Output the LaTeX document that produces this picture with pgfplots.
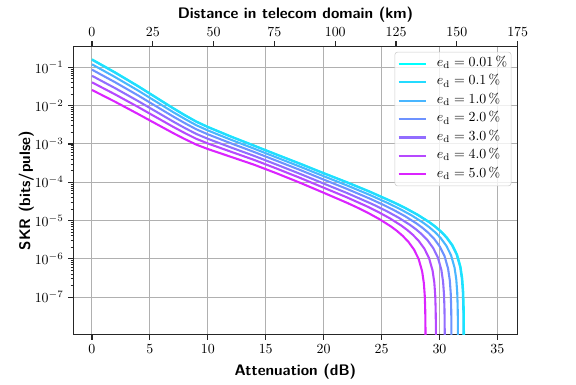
\documentclass[border=0pt]{standalone}
\usepackage{pgfplots}
\pgfplotsset{compat=1.18}
\definecolor{c0}{RGB}{0,255,255}
\definecolor{c1}{RGB}{36,219,255}
\definecolor{c2}{RGB}{73,182,255}
\definecolor{c3}{RGB}{109,146,255}
\definecolor{c4}{RGB}{146,109,255}
\definecolor{c5}{RGB}{182,73,255}
\definecolor{c6}{RGB}{219,36,255}
\begin{document}
\begin{tikzpicture}
\useasboundingbox (-52.8pt,-35.6pt) rectangle (362.0pt,241.0pt);
\begin{axis}[
  at={(0,0)}, anchor=south west,
  scale only axis, width=320pt, height=207.7pt,
  xmin=-1.61, xmax=36.75,
  ymode=log, ymin=1.047e-8, ymax=0.356,
  xtick={0,5,...,35},
  ytick={1e-7,1e-6,1e-5,1e-4,1e-3,1e-2,1e-1},
  xtick pos=bottom, ytick pos=left,
  tick align=outside,
  major tick length=3.5pt, minor tick length=2pt,
  tick style={black!85, line width=0.8pt},
  minor tick style={black!85, line width=0.6pt},
  grid=major, major grid style={color=black!31, line width=0.75pt},
  axis line style={black!85, line width=0.8pt},
  tick label style={font=\fontsize{10}{12}\selectfont},
  xlabel={Attenuation (dB)}, ylabel={SKR (bits/pulse)},
  label style={font=\fontsize{11}{13}\selectfont\sffamily\bfseries},
  xlabel style={at={(axis description cs:0.5,-0.130)}, anchor=center},
  ylabel style={at={(axis description cs:-0.106,0.5)}, anchor=center},
  legend cell align=left,
  legend image code/.code={\draw[#1, line width=1.5pt] (0pt,0pt) -- (20pt,0pt);},
  legend style={at={(1,1)}, anchor=north east, xshift=-4.5pt, yshift=-4pt,
    draw=black!20, rounded corners=2pt, fill=white, fill opacity=0.8, text opacity=1,
    font=\fontsize{10}{12}\selectfont, inner xsep=2pt, inner ysep=3pt, row sep=2.7pt,
    nodes={inner sep=0.8pt, text height=6.6pt, text depth=2.4pt},
    /tikz/every odd column/.append style={column sep=6pt}},
]
\addplot[c0, line width=1.5pt, no markers] coordinates {(0,1.622e-1) (1,1.097e-1) (2,7.413e-2) (3,4.898e-2) (4,3.236e-2) (5,2.084e-2) (6,1.346e-2) (7,8.690e-3) (8,5.728e-3) (9,3.873e-3) (10,2.799e-3) (12,1.570e-3) (14,9.078e-4) (16,5.236e-4) (18,3.041e-4) (20,1.738e-4) (22,1.007e-4) (24,5.689e-5) (26.12,2.946e-5) (27.12,2.088e-5) (28.12,1.427e-5) (29.12,9.177e-6) (29.62,7.096e-6) (30.12,5.269e-6) (30.62,3.676e-6) (31.12,2.281e-6) (31.52,1.293e-6) (31.82,6.191e-7) (31.97,3.036e-7) (32.05,1.402e-7) (32.09,5.967e-8) (32.11,1.985e-8) (32.117,5.955e-9) (32.12,1e-12)};
\addlegendentry{$e_\mathrm{d} = 0.01\,\%$}
\addplot[c1, line width=1.5pt, no markers] coordinates {(0,1.578e-1) (1,1.067e-1) (2,7.220e-2) (3,4.773e-2) (4,3.156e-2) (5,2.034e-2) (6,1.315e-2) (7,8.498e-3) (8,5.607e-3) (9,3.794e-3) (10,2.745e-3) (12,1.542e-3) (14,8.928e-4) (16,5.152e-4) (18,2.992e-4) (20,1.710e-4) (22,9.909e-5) (24,5.590e-5) (26.08,2.928e-5) (27.08,2.075e-5) (28.08,1.418e-5) (29.08,9.122e-6) (29.58,7.054e-6) (30.08,5.238e-6) (30.58,3.654e-6) (31.08,2.267e-6) (31.48,1.285e-6) (31.78,6.154e-7) (31.93,3.018e-7) (32.01,1.394e-7) (32.05,5.932e-8) (32.07,1.974e-8) (32.077,5.92e-9) (32.08,1e-12)};
\addlegendentry{$e_\mathrm{d} = 0.1\,\%$}
\addplot[c2, line width=1.5pt, no markers] coordinates {(0,1.202e-1) (1,8.178e-2) (2,5.561e-2) (3,3.701e-2) (4,2.463e-2) (5,1.601e-2) (6,1.044e-2) (7,6.807e-3) (8,4.530e-3) (9,3.092e-3) (10,2.255e-3) (12,1.287e-3) (14,7.535e-4) (16,4.361e-4) (18,2.528e-4) (20,1.440e-4) (22,8.299e-5) (24,4.642e-5) (25.6,2.808e-5) (26.6,1.990e-5) (27.6,1.360e-5) (28.6,8.748e-6) (29.1,6.764e-6) (29.6,5.023e-6) (30.1,3.504e-6) (30.6,2.174e-6) (31.0,1.232e-6) (31.3,5.902e-7) (31.45,2.894e-7) (31.53,1.336e-7) (31.57,5.689e-8) (31.59,1.893e-8) (31.597,5.677e-9) (31.6,1e-12)};
\addlegendentry{$e_\mathrm{d} = 1.0\,\%$}
\addplot[c3, line width=1.5pt, no markers] coordinates {(0,8.710e-2) (1,5.962e-2) (2,4.081e-2) (3,2.737e-2) (4,1.835e-2) (5,1.205e-2) (6,7.937e-3) (7,5.228e-3) (8,3.514e-3) (9,2.424e-3) (10,1.786e-3) (12,1.039e-3) (14,6.164e-4) (16,3.580e-4) (18,2.071e-4) (20,1.175e-4) (22,6.729e-5) (24,3.721e-5) (25.04,2.667e-5) (26.04,1.890e-5) (27.04,1.292e-5) (28.04,8.308e-6) (28.54,6.424e-6) (29.04,4.770e-6) (29.54,3.328e-6) (30.04,2.065e-6) (30.44,1.170e-6) (30.74,5.605e-7) (30.89,2.749e-7) (30.97,1.269e-7) (31.01,5.402e-8) (31.03,1.797e-8) (31.037,5.391e-9) (31.04,1e-12)};
\addlegendentry{$e_\mathrm{d} = 2.0\,\%$}
\addplot[c4, line width=1.5pt, no markers] coordinates {(0,6.026e-2) (1,4.152e-2) (2,2.862e-2) (3,1.936e-2) (4,1.309e-2) (5,8.697e-3) (6,5.796e-3) (7,3.861e-3) (8,2.624e-3) (9,1.830e-3) (10,1.364e-3) (12,8.100e-4) (14,4.876e-4) (16,2.845e-4) (18,1.639e-4) (20,9.256e-5) (22,5.253e-5) (24,2.859e-5) (24.46,2.465e-5) (25.46,1.747e-5) (26.46,1.194e-5) (27.46,7.678e-6) (27.96,5.937e-6) (28.46,4.409e-6) (28.96,3.076e-6) (29.46,1.908e-6) (29.86,1.082e-6) (30.16,5.180e-7) (30.31,2.541e-7) (30.39,1.173e-7) (30.43,4.993e-8) (30.45,1.661e-8) (30.457,4.983e-9) (30.46,1e-12)};
\addlegendentry{$e_\mathrm{d} = 3.0\,\%$}
\addplot[c5, line width=1.5pt, no markers] coordinates {(0,4.071e-2) (1,2.830e-2) (2,1.967e-2) (3,1.343e-2) (4,9.171e-3) (5,6.169e-3) (6,4.165e-3) (7,2.809e-3) (8,1.934e-3) (9,1.365e-3) (10,1.030e-3) (12,6.263e-4) (14,3.832e-4) (16,2.242e-4) (18,1.287e-4) (20,7.211e-5) (22,4.039e-5) (23.7,2.373e-5) (24.7,1.682e-5) (25.7,1.150e-5) (26.7,7.394e-6) (27.2,5.717e-6) (27.7,4.246e-6) (28.2,2.962e-6) (28.7,1.838e-6) (29.1,1.041e-6) (29.4,4.988e-7) (29.55,2.446e-7) (29.63,1.130e-7) (29.67,4.808e-8) (29.69,1.600e-8) (29.697,4.798e-9) (29.7,1e-12)};
\addlegendentry{$e_\mathrm{d} = 4.0\,\%$}
\addplot[c6, line width=1.5pt, no markers] coordinates {(0,2.569e-2) (1,1.800e-2) (2,1.263e-2) (3,8.723e-3) (4,6.022e-3) (5,4.110e-3) (6,2.816e-3) (7,1.927e-3) (8,1.346e-3) (9,9.636e-4) (10,7.378e-4) (12,4.603e-4) (14,2.867e-4) (16,1.683e-4) (18,9.600e-5) (20,5.320e-5) (22,2.920e-5) (22.8,2.262e-5) (23.8,1.603e-5) (24.8,1.095e-5) (25.8,7.045e-6) (26.3,5.447e-6) (26.8,4.045e-6) (27.3,2.822e-6) (27.8,1.751e-6) (28.2,9.924e-7) (28.5,4.753e-7) (28.65,2.331e-7) (28.73,1.076e-7) (28.77,4.581e-8) (28.79,1.524e-8) (28.797,4.572e-9) (28.8,1e-12)};
\addlegendentry{$e_\mathrm{d} = 5.0\,\%$}
\end{axis}
\begin{axis}[
  at={(0,0)}, anchor=south west,
  scale only axis, width=320pt, height=207.7pt,
  xmin=-7.667, xmax=175, ymin=0, ymax=1,
  axis x line*=top, hide y axis,
  xtick={0,25,...,175},
  tick align=outside, major tick length=3.5pt,
  tick style={black!85, line width=0.8pt},
  axis line style={black!85, line width=0.8pt, -},
  tick label style={font=\fontsize{10}{12}\selectfont},
  xlabel={Distance in telecom domain (km)},
  xlabel style={font=\fontsize{11}{13}\selectfont\sffamily\bfseries, at={(axis description cs:0.5,1.108)}, anchor=center},
]
\end{axis}
\end{tikzpicture}
\end{document}
